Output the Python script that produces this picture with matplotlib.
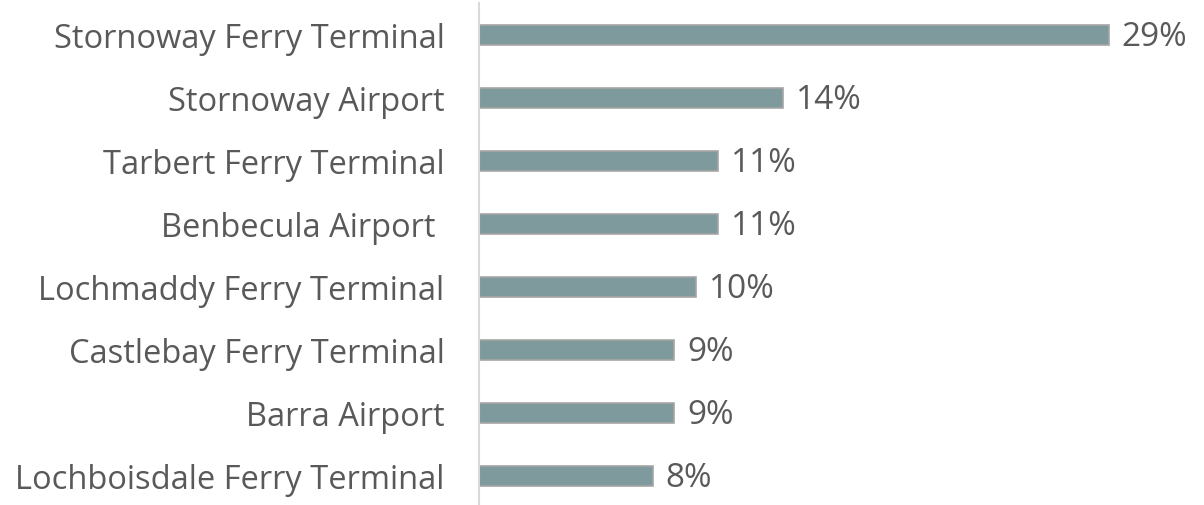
import matplotlib.pyplot as plt

locations = ['Stornoway Ferry Terminal', 'Stornoway Airport', 'Tarbert Ferry Terminal',
             'Benbecula Airport ', 'Lochmaddy Ferry Terminal', 'Castlebay Ferry Terminal',
             'Barra Airport', 'Lochboisdale Ferry Terminal']
shares = [29, 14, 11, 11, 10, 9, 9, 8]

plt.rcParams['font.family'] = ['Open Sans', 'DejaVu Sans']

fig = plt.figure(figsize=(12.04, 5.05), dpi=100)
ax = fig.add_axes([0.398, 0.0, 0.602, 0.994])

pos = list(range(len(locations)))
ax.barh(pos, shares, height=0.32, color='#7f9a9c', edgecolor='#a6a6a6', linewidth=1.2)

for p, v in zip(pos, shares):
    ax.text(v + 0.6, p + 0.04, f'{v}%', va='center', ha='left', fontsize=24, color='#595959')

ax.set_yticks(pos)
ax.set_yticklabels(locations, fontsize=23.5, color='#595959')
ax.tick_params(axis='y', length=0, pad=25)
ax.set_xticks([])
ax.set_xlim(0, 33.4)
ax.set_ylim(7.46, -0.51)

for s in ['top', 'right', 'bottom']:
    ax.spines[s].set_visible(False)
ax.spines['left'].set_color('#d9d9d9')
ax.spines['left'].set_linewidth(1.5)

fig.savefig('out.png', dpi=100)
